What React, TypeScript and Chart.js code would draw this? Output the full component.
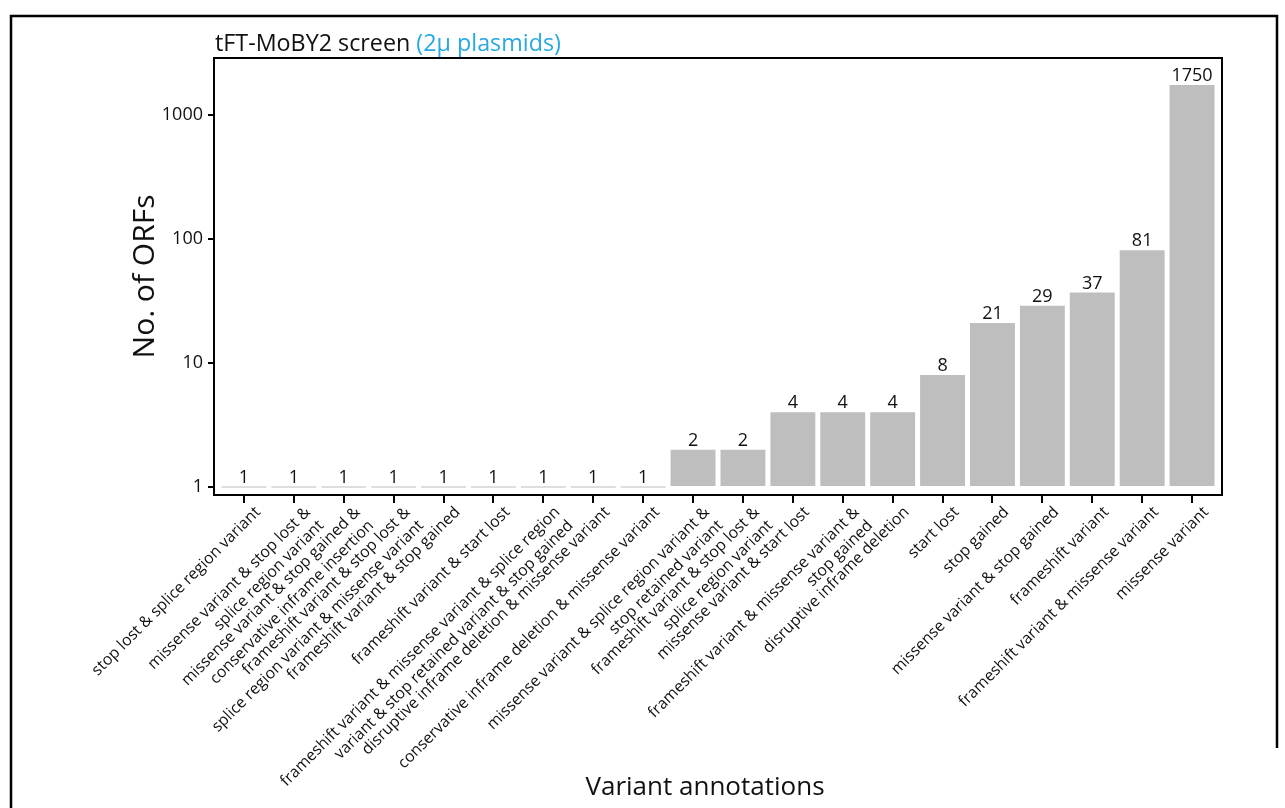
import React, { useEffect, useRef } from "react";
import { Chart, registerables } from "chart.js";

Chart.register(...registerables);

// Variant annotation categories (multi-line entries are wrapped labels)
const categories: (string | string[])[] = [
  "stop lost & splice region variant",
  ["missense variant & stop lost &", "splice region variant"],
  ["missense variant & stop gained &", "conservative inframe insertion"],
  ["frameshift variant & stop lost &", "splice region variant & missense variant"],
  "frameshift variant & stop gained",
  "frameshift variant & start lost",
  ["frameshift variant & missense variant & splice region", "variant & stop retained variant & stop gained"],
  "disruptive inframe deletion & missense variant",
  "conservative inframe deletion & missense variant",
  ["missense variant & splice region variant &", "stop retained variant"],
  ["frameshift variant & stop lost &", "splice region variant"],
  "missense variant & start lost",
  ["frameshift variant & missense variant &", "stop gained"],
  "disruptive inframe deletion",
  "start lost",
  "stop gained",
  "missense variant & stop gained",
  "frameshift variant",
  "frameshift variant & missense variant",
  "missense variant",
];

// Number of ORFs per annotation
const orfCounts: number[] = [1, 1, 1, 1, 1, 1, 1, 1, 1, 2, 2, 4, 4, 4, 8, 21, 29, 37, 81, 1750];

// Log-scale tick values on the y axis
const yTickValues: number[] = [1, 10, 100, 1000];

const titleMain = "tFT-MoBY2 screen ";
const titleNote = "(2µ plasmids)";
const xTitle = "Variant annotations";
const yTitle = "No. of ORFs";

const FONT = "'Open Sans', 'Noto Sans', sans-serif";
const INK = "#111111";
const BAR = "#bebebe";
const ACCENT = "#29a9e0";

const decorations = {
  id: "decorations",
  afterDatasetsDraw(chart: any) {
    const ctx = chart.ctx as CanvasRenderingContext2D;
    const meta = chart.getDatasetMeta(0);
    const values = chart.data.datasets[0].data as { x: number; y: number }[];
    ctx.save();
    ctx.fillStyle = INK;
    ctx.font = `18px ${FONT}`;
    ctx.textAlign = "center";
    ctx.textBaseline = "alphabetic";
    meta.data.forEach((bar: any, i: number) => {
      const top = Math.min(bar.y, bar.base);
      ctx.fillText(String(values[i].y), bar.x, top - 4);
    });
    ctx.restore();
  },
  afterDraw(chart: any) {
    const ctx = chart.ctx as CanvasRenderingContext2D;
    const { left, top, right, bottom } = chart.chartArea;
    ctx.save();

    // panel frame
    ctx.strokeStyle = "#000";
    ctx.lineWidth = 2;
    ctx.strokeRect(left, top, right - left, bottom - top);

    // outer figure frame
    ctx.lineWidth = 2.5;
    ctx.beginPath();
    ctx.moveTo(11, 808);
    ctx.lineTo(11, 16);
    ctx.lineTo(1277, 16);
    ctx.lineTo(1277, 748);
    ctx.stroke();

    // title with coloured note
    ctx.font = `23.3px ${FONT}`;
    ctx.textAlign = "left";
    ctx.textBaseline = "alphabetic";
    ctx.fillStyle = INK;
    ctx.fillText(titleMain, left + 1, 51);
    const w = ctx.measureText(titleMain).width;
    ctx.fillStyle = ACCENT;
    ctx.fillText(titleNote, left + 1 + w, 51);

    // axis titles
    ctx.fillStyle = INK;
    ctx.font = `26px ${FONT}`;
    ctx.textAlign = "center";
    ctx.textBaseline = "middle";
    ctx.fillText(xTitle, 705, 788);
    ctx.font = `30px ${FONT}`;
    ctx.translate(145, (top + bottom) / 2);
    ctx.rotate(-Math.PI / 2);
    ctx.fillText(yTitle, 0, 0);
    ctx.restore();
  },
};

export default function App() {
  const canvasRef = useRef<HTMLCanvasElement | null>(null);

  useEffect(() => {
    const canvas = canvasRef.current;
    if (!canvas) return;
    const chart = new Chart(canvas, {
      type: "bar",
      data: {
        datasets: [
          {
            data: orfCounts.map((v, i) => ({ x: i, y: v })),
            base: 1,
            backgroundColor: BAR,
            borderWidth: 0,
            barPercentage: 0.9,
            categoryPercentage: 1,
            minBarLength: 1,
          } as any,
        ],
      },
      options: {
        responsive: false,
        animation: false,
        devicePixelRatio: 1,
        layout: { padding: { left: 0, top: 58, right: 63, bottom: 0 } },
        plugins: {
          legend: { display: false },
          tooltip: { enabled: false },
          title: { display: false },
        },
        scales: {
          x: {
            type: "linear",
            offset: false,
            min: -0.6,
            max: categories.length - 1 + 0.6,
            afterBuildTicks: (s: any) => {
              s.ticks = categories.map((_, i) => ({ value: i }));
            },
            afterFit: (s: any) => {
              s.height = 313;
            },
            border: { display: false },
            grid: {
              display: true,
              offset: false,
              drawOnChartArea: false,
              drawTicks: true,
              tickLength: 8,
              color: "#000",
              lineWidth: 2,
            },
            ticks: {
              autoSkip: false,
              minRotation: 45,
              maxRotation: 45,
              padding: 0,
              labelOffset: 14,
              color: INK,
              font: { family: FONT, size: 15.8 },
              callback: (_v: any, index: number) => categories[index],
            },
          },
          y: {
            type: "logarithmic",
            min: 0.862,
            max: 2883,
            afterBuildTicks: (s: any) => {
              s.ticks = yTickValues.map((v) => ({ value: v }));
            },
            afterFit: (s: any) => {
              s.width = 214;
            },
            border: { display: false },
            grid: {
              display: true,
              drawOnChartArea: false,
              drawTicks: true,
              tickLength: 6,
              color: "#000",
              lineWidth: 2,
            },
            ticks: {
              padding: 5,
              color: INK,
              font: { family: FONT, size: 18 },
              callback: (v: any) => String(v),
            },
          },
        },
      },
      plugins: [decorations],
    });
    return () => chart.destroy();
  }, []);

  return (
    <div
      style={{
        position: "fixed",
        left: 0,
        top: 0,
        width: 1285,
        height: 808,
        background: "#ffffff",
      }}
    >
      <canvas ref={canvasRef} width={1285} height={808} style={{ display: "block" }} />
    </div>
  );
}
